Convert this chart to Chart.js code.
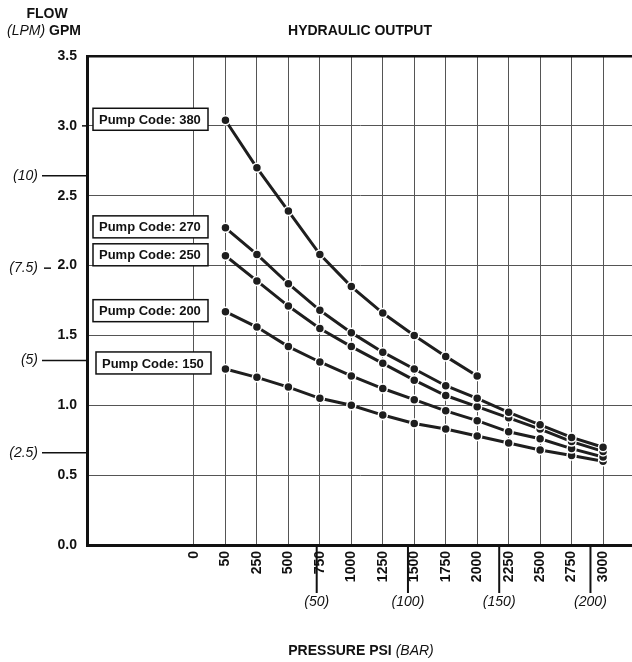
<!DOCTYPE html>
<html>
<head>
<meta charset="utf-8">
<title>Hydraulic Output</title>
<script src="https://cdn.jsdelivr.net/npm/chart.js@4.4.1/dist/chart.umd.min.js"></script>
<style>
  body { margin: 0; background: #fff; }
  canvas { display: block; }
</style>
</head>
<body>
<canvas id="chart" width="632" height="662"></canvas>
<script>
// pressure categories (psi) along the bottom
const psiLabels = ['0', '50', '250', '500', '750', '1000', '1250', '1500', '1750', '2000', '2250', '2500', '2750', '3000'];
const psiValues = [0, 50, 250, 500, 750, 1000, 1250, 1500, 1750, 2000, 2250, 2500, 2750, 3000];

// flow in GPM for each pump, starting at 50 psi
const pump380 = [3.04, 2.70, 2.39, 2.08, 1.85, 1.66, 1.50, 1.35, 1.21];
const pump270 = [2.27, 2.08, 1.87, 1.68, 1.52, 1.38, 1.26, 1.14, 1.05, 0.95, 0.86, 0.77, 0.70];
const pump250 = [2.07, 1.89, 1.71, 1.55, 1.42, 1.30, 1.18, 1.07, 0.99, 0.91, 0.83, 0.74, 0.67];
const pump200 = [1.67, 1.56, 1.42, 1.31, 1.21, 1.12, 1.04, 0.96, 0.89, 0.81, 0.76, 0.69, 0.63];
const pump150 = [1.26, 1.20, 1.13, 1.05, 1.00, 0.93, 0.87, 0.83, 0.78, 0.73, 0.68, 0.64, 0.60];
const pumpCodes = ['380', '270', '250', '200', '150'];

// y ticks (GPM) and the secondary units
const gpmTicks = [0, 0.5, 1.0, 1.5, 2.0, 2.5, 3.0, 3.5];
const lpmTicks = [10, 7.5, 5, 2.5];
const barTicks = [50, 100, 150, 200];

const FONT = "'Liberation Sans', Arial, sans-serif";
Chart.defaults.font.family = FONT;
Chart.defaults.color = '#111';

// psi value -> position on the evenly spaced category axis
function psiToIndex(p) {
  for (let i = 1; i < psiValues.length; i++) {
    if (p <= psiValues[i]) {
      return i - 1 + (p - psiValues[i - 1]) / (psiValues[i] - psiValues[i - 1]);
    }
  }
  return psiValues.length - 1;
}

const series = [pump380, pump270, pump250, pump200, pump150];
const datasets = series.map((vals, k) => ({
  label: 'Pump Code: ' + pumpCodes[k],
  data: vals.map((v, i) => ({ x: i + 1, y: v })),
  borderColor: '#1e1e1e',
  borderWidth: 3,
  pointRadius: 4.5,
  pointBackgroundColor: '#1e1e1e',
  pointBorderColor: '#fff',
  pointBorderWidth: 1.5,
  tension: 0,
  clip: false
}));

const extras = {
  id: 'extras',
  afterDraw(chart) {
    const ctx = chart.ctx;
    const x = chart.scales.x, y = chart.scales.y;
    const area = chart.chartArea;
    ctx.save();
    ctx.fillStyle = '#111';
    ctx.strokeStyle = '#111';

    // titles
    ctx.textBaseline = 'middle';
    ctx.textAlign = 'center';
    ctx.font = 'bold 14px ' + FONT;
    ctx.fillText('HYDRAULIC OUTPUT', 360, 31);
    ctx.fillText('FLOW', 47, 14);
    ctx.textAlign = 'left';
    ctx.font = 'italic 14px ' + FONT;
    ctx.fillText('(LPM)', 7, 31);
    let w = ctx.measureText('(LPM) ').width;
    ctx.font = 'bold 14px ' + FONT;
    ctx.fillText('GPM', 7 + w, 31);

    // LPM marks on the left
    ctx.font = 'italic 14px ' + FONT;
    ctx.textAlign = 'right';
    ctx.lineWidth = 1.5;
    lpmTicks.forEach(l => {
      const py = y.getPixelForValue(l / 3.785);
      ctx.fillText('(' + l + ')', 38, py);
      const nearTick = gpmTicks.some(t => Math.abs(y.getPixelForValue(t) - py) < 9);
      ctx.beginPath();
      if (nearTick) {
        ctx.moveTo(44, py); ctx.lineTo(51, py);
      } else {
        ctx.moveTo(42, py); ctx.lineTo(area.left, py);
      }
      ctx.stroke();
    });

    // short tick left of 3.0
    ctx.beginPath();
    ctx.moveTo(82, y.getPixelForValue(3)); ctx.lineTo(area.left, y.getPixelForValue(3));
    ctx.stroke();

    // BAR marks under the x axis
    ctx.textAlign = 'center';
    ctx.lineWidth = 2;
    barTicks.forEach(b => {
      const px = x.getPixelForValue(psiToIndex(b * 14.5));
      ctx.beginPath();
      ctx.moveTo(px, area.bottom);
      ctx.lineTo(px, 593);
      ctx.stroke();
      ctx.fillText('(' + b + ')', px, 602);
    });

    // x axis title
    ctx.font = 'bold 14px ' + FONT;
    const t1 = 'PRESSURE PSI ';
    const w1 = ctx.measureText(t1).width;
    ctx.font = 'italic 14px ' + FONT;
    const w2 = ctx.measureText('(BAR)').width;
    const sx = 361 - (w1 + w2) / 2;
    ctx.textAlign = 'left';
    ctx.font = 'bold 14px ' + FONT;
    ctx.fillText(t1, sx, 651);
    ctx.font = 'italic 14px ' + FONT;
    ctx.fillText('(BAR)', sx + w1, 651);

    // pump code boxes
    ctx.font = 'bold 13px ' + FONT;
    ctx.lineWidth = 1.5;
    series.forEach((vals, k) => {
      let cy = y.getPixelForValue(vals[0]) - 1;
      if (pumpCodes[k] === '150') cy -= 5;
      const bx = pumpCodes[k] === '150' ? 96 : 93;
      ctx.fillStyle = '#fff';
      ctx.fillRect(bx, cy - 11, 115, 22);
      ctx.strokeRect(bx, cy - 11, 115, 22);
      ctx.fillStyle = '#111';
      ctx.textAlign = 'left';
      ctx.fillText('Pump Code: ' + pumpCodes[k], bx + 6, cy + 1);
    });
    ctx.restore();
  }
};

new Chart(document.getElementById('chart'), {
  type: 'line',
  data: { datasets },
  options: {
    responsive: false,
    animation: false,
    devicePixelRatio: 1,
    layout: { autoPadding: false, padding: { top: 56, right: 0, left: 0, bottom: 0 } },
    plugins: { legend: { display: false }, tooltip: { enabled: false } },
    scales: {
      x: {
        type: 'linear',
        min: -3.40,
        max: 13.92,
        afterBuildTicks: s => { s.ticks = psiLabels.map((_, i) => ({ value: i })); },
        afterFit: s => { s.height = 117; s.paddingLeft = 0; s.paddingRight = 0; },
        grid: { color: '#555', lineWidth: 1, drawTicks: false },
        border: { color: '#111', width: 3 },
        ticks: {
          autoSkip: false,
          minRotation: 90,
          maxRotation: 90,
          padding: 6,
          font: { size: 14, weight: 'bold' },
          callback: v => psiLabels[v]
        }
      },
      y: {
        min: 0,
        max: 3.5,
        afterBuildTicks: s => { s.ticks = gpmTicks.map(v => ({ value: v })); },
        afterFit: s => { s.width = 87; s.paddingTop = 0; s.paddingBottom = 0; },
        grid: {
          color: ctx => ctx.tick && ctx.tick.value === 3.5 ? '#111' : '#555',
          lineWidth: ctx => ctx.tick && ctx.tick.value === 3.5 ? 2.5 : 1,
          drawTicks: false
        },
        border: { color: '#111', width: 3 },
        ticks: {
          padding: 10,
          font: { size: 14, weight: 'bold' },
          callback: v => v.toFixed(1)
        }
      }
    }
  },
  plugins: [extras]
});
</script>
</body>
</html>
